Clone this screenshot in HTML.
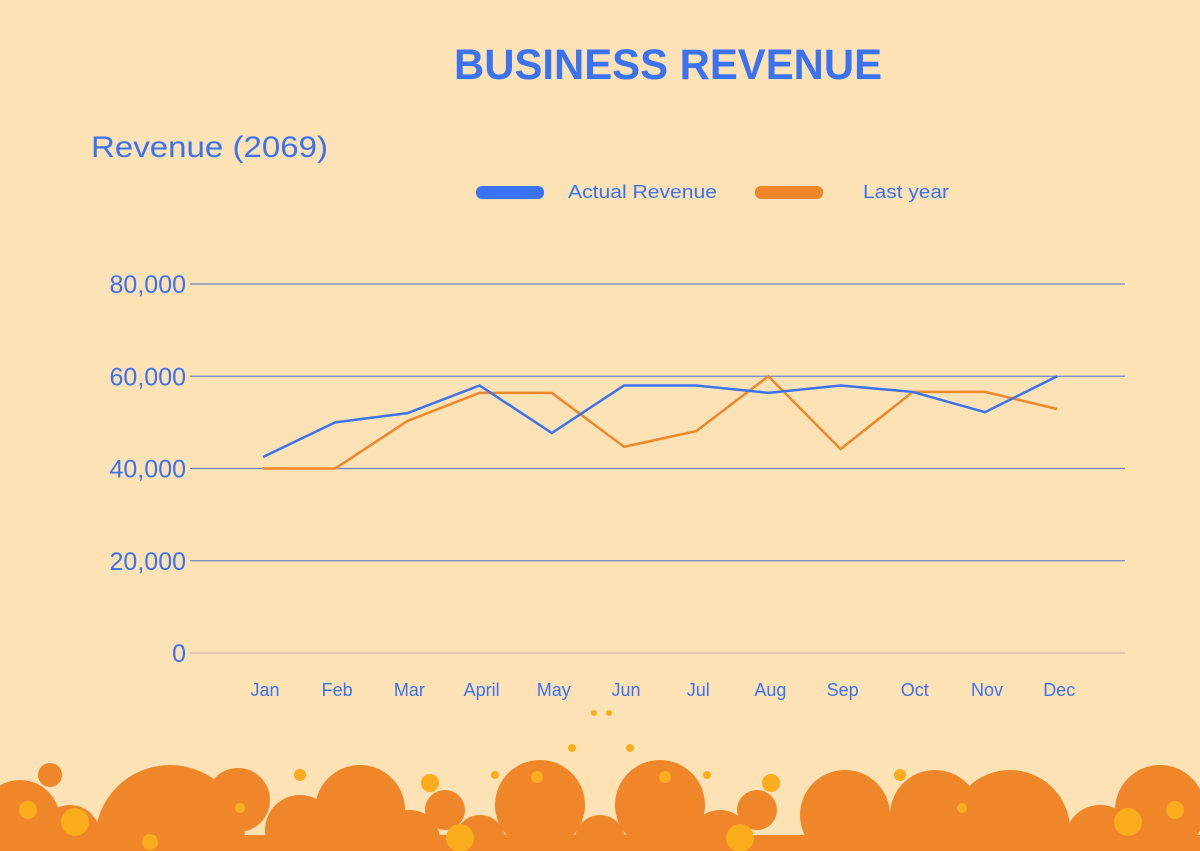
<!DOCTYPE html>
<html><head><meta charset="utf-8"><style>
body{margin:0;width:1200px;height:851px;background:#fde2b6;overflow:hidden;font-family:"Liberation Sans",sans-serif}
svg{overflow:hidden;display:block}
</style></head><body>
<svg width="1200" height="851" style="position:absolute;left:0;top:0">
<text x="668" y="79" text-anchor="middle" font-size="43" font-weight="bold" fill="#3a72f0" textLength="428" lengthAdjust="spacingAndGlyphs">BUSINESS REVENUE</text>
<text x="91" y="157" font-size="30" fill="#3a72f0" textLength="237" lengthAdjust="spacingAndGlyphs">Revenue (2069)</text>
<g>
<rect x="476" y="186" width="68" height="13" rx="6" fill="#3a72f0"/>
<text x="568" y="198" font-size="18" fill="#3a72f0" textLength="149" lengthAdjust="spacingAndGlyphs">Actual Revenue</text>
<rect x="755" y="186" width="68" height="13" rx="6" fill="#f0862a"/>
<text x="863" y="198" font-size="18" fill="#3a72f0" textLength="86" lengthAdjust="spacingAndGlyphs">Last year</text>
</g>
<g id="grid"></g><g id="xl"></g><g id="lines"></g><g id="deco"></g>
</svg>
<script>
const months=["Jan","Feb","Mar","April","May","Jun","Jul","Aug","Sep","Oct","Nov","Dec"];
const actual=[42500,50000,52000,58000,47700,58000,58000,56400,58000,56600,52200,60000];
const lastYear=[40000,40000,50300,56400,56400,44700,48100,60000,44200,56600,56600,52900];
const yTicks=[0,20000,40000,60000,80000];
const NS="http://www.w3.org/2000/svg";
function mk(t,a,p){const e=document.createElementNS(NS,t);for(const k in a)e.setAttribute(k,a[k]);p.appendChild(e);return e;}
const y=v=>653-v/80000*369, x=i=>263+i*72.2;
const g=document.getElementById('grid');
yTicks.forEach(v=>{
 const l=mk('line',{x1:190,x2:1125,y1:y(v),y2:y(v),stroke:v?'#6b86c8':'#cdb9a0','stroke-width':1.2},g);
 
 
 const t=mk('text',{x:186,y:y(v)+9,'text-anchor':'end','font-size':25,fill:'#3a72f0'},g);
 t.textContent=v.toLocaleString('en-US');
 
 
});
const xl=document.getElementById('xl');
months.forEach((m,i)=>{
 const t=mk('text',{x:x(i)+2,y:696,'text-anchor':'middle','font-size':18,fill:'#3a72f0'},xl);
 t.textContent=m;
 
 
});
const L=document.getElementById('lines');
[[lastYear,'#f0862a','line-last-year'],[actual,'#3a72f0','line-actual']].forEach(([d,c,n])=>{
 const p=mk('polyline',{points:d.map((v,i)=>x(i)+','+y(v)).join(' '),fill:'none',stroke:c,'stroke-width':2.5},L);
 
 
});
const D=document.getElementById('deco');


const big=[[20,820,40],[70,835,30],[170,840,75],[238,800,32],[300,830,35],[360,810,45],[445,810,20],[410,840,30],[540,805,45],[660,805,45],[600,840,25],[720,840,30],[757,810,20],[845,815,45],[935,815,45],[880,840,30],[1010,830,60],[1100,840,35],[1160,810,45],[1150,780,12],[50,775,12],[130,820,30],[480,840,25]];
big.forEach(c=>{mk('circle',{cx:c[0],cy:c[1],r:c[2],fill:'#f0862a'},D);});
mk('rect',{x:0,y:835,width:1200,height:16,fill:'#f0862a'},D);
const sm=[[28,810,9],[75,822,14],[150,842,8],[300,775,6],[430,783,9],[537,777,6],[665,777,6],[771,783,9],[900,775,6],[1128,822,14],[1175,810,9],[460,838,14],[740,838,14],[572,748,4],[630,748,4],[594,713,3],[609,713,3],[495,775,4],[707,775,4],[240,808,5],[962,808,5]];
sm.forEach(c=>{mk('circle',{cx:c[0],cy:c[1],r:c[2],fill:'#fbac1c'},D);});
</script>
</body></html>
